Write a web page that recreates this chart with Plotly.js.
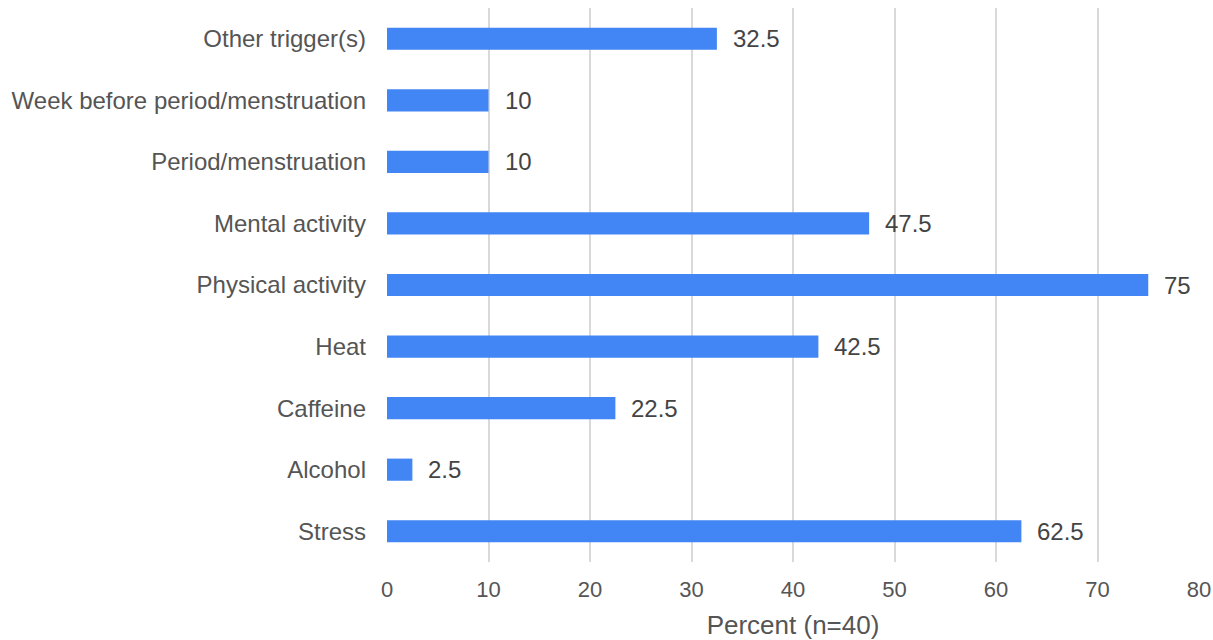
<!DOCTYPE html>
<html><head><meta charset="utf-8">
<script src="https://cdn.plot.ly/plotly-3.0.1.min.js"></script>
<style>html,body{margin:0;padding:0;background:#fff}#chart{width:1213px;height:640px}</style>
</head><body><div id="chart"></div>
<script>
const categories = ["Stress","Alcohol","Caffeine","Heat","Physical activity","Mental activity","Period/menstruation","Week before period/menstruation","Other trigger(s)"];
const percents = [62.5, 2.5, 22.5, 42.5, 75, 47.5, 10, 10, 32.5];
const xTicks = [0,10,20,30,40,50,60,70,80];

const font = "Liberation Sans, Arial, sans-serif";
const annotations = categories.map((c,i)=>({
  x: percents[i], y: c, xref:'x', yref:'y', text: String(percents[i]),
  showarrow:false, xanchor:'left', xshift:14, font:{family:font,size:24,color:'#444'}
}));

Plotly.newPlot('chart',[{
  type:'bar', orientation:'h', y:categories, x:percents,
  marker:{color:'#4285F4'}, hoverinfo:'none'
}],{
  width:1213, height:640,
  margin:{l:387,r:14,t:8,b:78},
  bargap:0.64,
  paper_bgcolor:'#fff', plot_bgcolor:'#fff',
  font:{family:font,color:'#555'},
  xaxis:{range:[0,80], tickvals:xTicks, showgrid:true, gridcolor:'#d9d9d9', gridwidth:2,
    zeroline:false, showline:false, ticks:'', ticklabelstandoff:12,
    tickfont:{family:font,size:22,color:'#555'},
    title:{text:'Percent (n=40)', font:{family:font,size:26,color:'#555'}, standoff:15}},
  yaxis:{type:'category', showgrid:false, zeroline:false, showline:false, ticks:'',
    ticklabelstandoff:20, tickfont:{family:font,size:24,color:'#555'}},
  annotations: annotations,
  showlegend:false
},{displayModeBar:false,staticPlot:true});
</script></body></html>
